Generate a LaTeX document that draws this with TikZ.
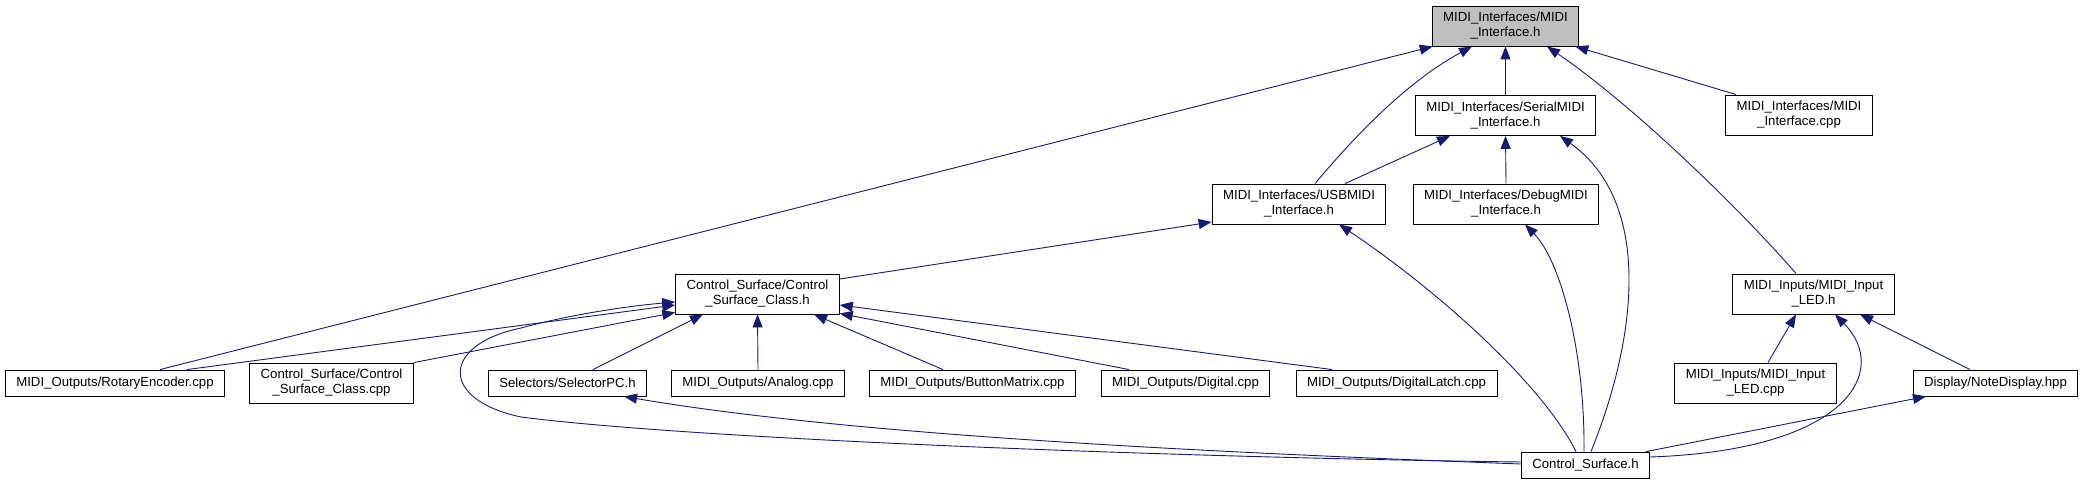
\documentclass[tikz,border=0pt]{standalone}
\usepackage{fontspec}
\setmainfont{Liberation Sans}
\usepackage{tikz}
\usetikzlibrary{arrows.meta}
\definecolor{edgeblue}{RGB}{25,25,112}
\definecolor{rootgrey}{RGB}{191,191,191}

\begin{document}
\begin{tikzpicture}[x=1pt, y=-1pt,
  file/.style={draw=black, fill=white, line width=0.9pt, inner xsep=11pt, inner ysep=0pt,
    minimum height=26pt, font=\fontsize{13.2}{15}\selectfont},
  file2/.style={file, align=center, minimum height=40pt},
  dep/.style={edgeblue, line width=0.9pt, -{Triangle[length=13pt,width=10pt]}}]
  \useasboundingbox (0,0) rectangle (2084,484);
  % headers, top to bottom
  \node[file2, fill=rootgrey] (ifaceh) at (1505.5,26) {MIDI\_Interfaces/MIDI\\\_Interface.h};
  \node[file2] (serial)   at (1505.5,115.5) {MIDI\_Interfaces/SerialMIDI\\\_Interface.h};
  \node[file2] (ifacecpp) at (1799,115)     {MIDI\_Interfaces/MIDI\\\_Interface.cpp};
  \node[file2] (usb)      at (1299,204)     {MIDI\_Interfaces/USBMIDI\\\_Interface.h};
  \node[file2] (debug)    at (1506,204)     {MIDI\_Interfaces/DebugMIDI\\\_Interface.h};
  \node[file2] (csclassh) at (757.5,294)    {Control\_Surface/Control\\\_Surface\_Class.h};
  \node[file2] (ledh)     at (1813.5,294)   {MIDI\_Inputs/MIDI\_Input\\\_LED.h};
  % bottom row
  \node[file]  (rotary)     at (115,383)    {MIDI\_Outputs/RotaryEncoder.cpp};
  \node[file2] (csclasscpp) at (331.5,383)  {Control\_Surface/Control\\\_Surface\_Class.cpp};
  \node[file]  (selpc)      at (567.5,383)  {Selectors/SelectorPC.h};
  \node[file]  (analog)     at (758,383)    {MIDI\_Outputs/Analog.cpp};
  \node[file]  (btnmatrix)  at (972.5,383)  {MIDI\_Outputs/ButtonMatrix.cpp};
  \node[file]  (digital)    at (1185.5,383) {MIDI\_Outputs/Digital.cpp};
  \node[file]  (latch)      at (1396.5,383) {MIDI\_Outputs/DigitalLatch.cpp};
  \node[file2] (ledcpp)     at (1755.5,383) {MIDI\_Inputs/MIDI\_Input\\\_LED.cpp};
  \node[file]  (notedisp)   at (1995.5,383) {Display/NoteDisplay.hpp};
  \node[file]  (csh)        at (1585.5,465) {Control\_Surface.h};
  % into MIDI_Interface.h
  \draw[dep] ([xshift=45pt]rotary.north) -- ([xshift=1pt]ifaceh.south west);
  \draw[dep] ([xshift=16pt]usb.north) .. controls (1360,130) and (1410,80) .. ([xshift=-33.5pt]ifaceh.south);
  \draw[dep] (serial.north) -- (ifaceh.south);
  \draw[dep] ([xshift=-63pt]ifacecpp.north) -- ([xshift=-4pt]ifaceh.south east);
  \draw[dep] ([xshift=-17.5pt]ledh.north) .. controls (1750,220) and (1640,110) .. ([xshift=41.5pt]ifaceh.south);
  % into the serial, USB and debug interfaces
  \draw[dep] ([xshift=46pt]usb.north) -- ([xshift=-55.5pt]serial.south);
  \draw[dep] (debug.north) -- (serial.south);
  \draw[dep] ([xshift=5.5pt]csh.north) .. controls (1640,330) and (1650,200) .. ([xshift=54.5pt]serial.south);
  \draw[dep] ([yshift=15pt]csclassh.east) -- ([yshift=-18pt]usb.west);
  \draw[dep] ([xshift=-9.5pt]csh.north) .. controls (1540,380) and (1430,285) .. ([xshift=40pt]usb.south);
  \draw[dep] ([xshift=-1.5pt]csh.north) .. controls (1585,350) and (1560,260) .. ([xshift=19pt]debug.south);
  % into Control_Surface_Class.h
  \draw[dep] ([xshift=72pt]rotary.north) -- ([yshift=-11pt]csclassh.west);
  \draw[dep] (csclasscpp.north east) -- ([yshift=2pt]csclassh.south west);
  \draw[dep] ([yshift=3pt]csh.west) .. controls (1200,458) and (700,440) .. (521,417)
    .. controls (440,400) and (440,345) .. (521,328)
    .. controls (580,312) and (640,305) .. ([yshift=-8pt]csclassh.west);
  \draw[dep] ([xshift=25.5pt]selpc.north) -- ([xshift=-54.5pt]csclassh.south);
  \draw[dep] (analog.north) -- (csclassh.south);
  \draw[dep] ([xshift=-29.5pt]btnmatrix.north) -- ([xshift=56.5pt]csclassh.south);
  \draw[dep] ([xshift=-56.5pt]digital.north) -- ([yshift=1pt]csclassh.south east);
  \draw[dep] ([xshift=-64.5pt]latch.north) -- ([yshift=-11pt]csclassh.east);
  % from Control_Surface.h and into MIDI_Input_LED.h
  \draw[dep] ([yshift=1pt]csh.west) .. controls (1200,452) and (850,435) .. ([xshift=56.5pt]selpc.south);
  \draw[dep] ([xshift=-4pt]csh.north east) -- ([xshift=-69.5pt]notedisp.south);
  \draw[dep] ([yshift=8pt]csh.east) .. controls (1850,450) and (1890,370) .. ([xshift=21.5pt]ledh.south);
  \draw[dep] ([xshift=12.5pt]ledcpp.north) -- ([xshift=-17.5pt]ledh.south);
  \draw[dep] ([xshift=-25.5pt]notedisp.north) -- ([xshift=46.5pt]ledh.south);
\end{tikzpicture}
\end{document}
